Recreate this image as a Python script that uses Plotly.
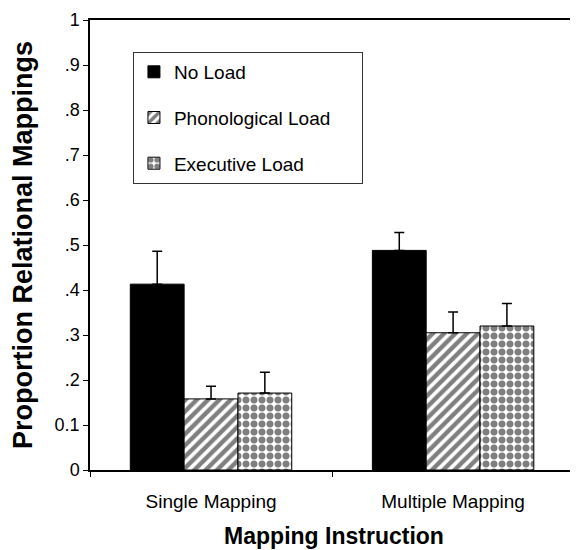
import plotly.graph_objects as go

categories = ["Single Mapping", "Multiple Mapping"]
series_names = ["No Load", "Phonological Load", "Executive Load"]
no_load = [0.413, 0.488]
phono_load = [0.158, 0.305]
exec_load = [0.171, 0.320]
no_load_err = [0.073, 0.040]
phono_load_err = [0.028, 0.046]
exec_load_err = [0.046, 0.050]
y_tick_vals = [0, 0.1, 0.2, 0.3, 0.4, 0.5, 0.6, 0.7, 0.8, 0.9, 1.0]
y_tick_text = ["0", "0.1", ".2", ".3", ".4", ".5", ".6", ".7", ".8", ".9", "1"]

values = [no_load, phono_load, exec_load]
errors = [no_load_err, phono_load_err, exec_load_err]
patterns = [None,
            dict(shape="/", fgcolor="black", bgcolor="white", size=8, solidity=0.55),
            dict(shape=".", fgcolor="black", bgcolor="white", size=8, solidity=0.6)]
colors = ["black", "white", "white"]
# trailing no-break spaces only widen the legend box
pad = ["", "\u00a0" * 5, ""]

fig = go.Figure()
for i, name in enumerate(series_names):
    marker = dict(color=colors[i], line=dict(color="black", width=1))
    if patterns[i] is not None:
        marker["pattern"] = patterns[i]
    fig.add_trace(go.Bar(
        x=categories, y=values[i], name=name + pad[i], legendgroup=name,
        marker=marker,
        error_y=dict(type="data", array=errors[i], arrayminus=[0] * len(errors[i]),
                     symmetric=False, color="black", thickness=1.5, width=5),
    ))

# the page body has an 8px margin, so the figure is offset by 8px
fig.update_layout(
    width=570, height=542,
    margin=dict(l=82, r=0, t=12, b=80),
    paper_bgcolor="white", plot_bgcolor="white",
    barmode="group", bargap=0.333, bargroupgap=0,
    font=dict(family="Arial, Liberation Sans, sans-serif", color="black"),
    showlegend=True,
    legend=dict(x=0.088, y=0.929, xanchor="left", yanchor="top",
                bgcolor="white", bordercolor="#333", borderwidth=1,
                font=dict(size=19), tracegroupgap=18, traceorder="grouped"),
    xaxis=dict(range=[-0.5, 1.516], showline=True, linecolor="black", linewidth=1.5,
               mirror=True, ticks="outside", tickson="boundaries", ticklen=5,
               tickcolor="black", tickfont=dict(size=19), automargin=False,
               ticklabelstandoff=13,
               title=dict(text="<b>Mapping Instruction</b>", font=dict(size=23), standoff=17),
               showgrid=False, zeroline=False),
    yaxis=dict(range=[0, 1], tickvals=y_tick_vals, ticktext=y_tick_text,
               showline=True, linecolor="black", linewidth=1.5, ticks="outside",
               ticklen=5, tickcolor="black", tickfont=dict(size=18), automargin=False,
               title=dict(text="<b>Proportion Relational Mappings</b>", font=dict(size=27), standoff=14),
               showgrid=False, zeroline=False),
)

fig.write_html("out.html")
